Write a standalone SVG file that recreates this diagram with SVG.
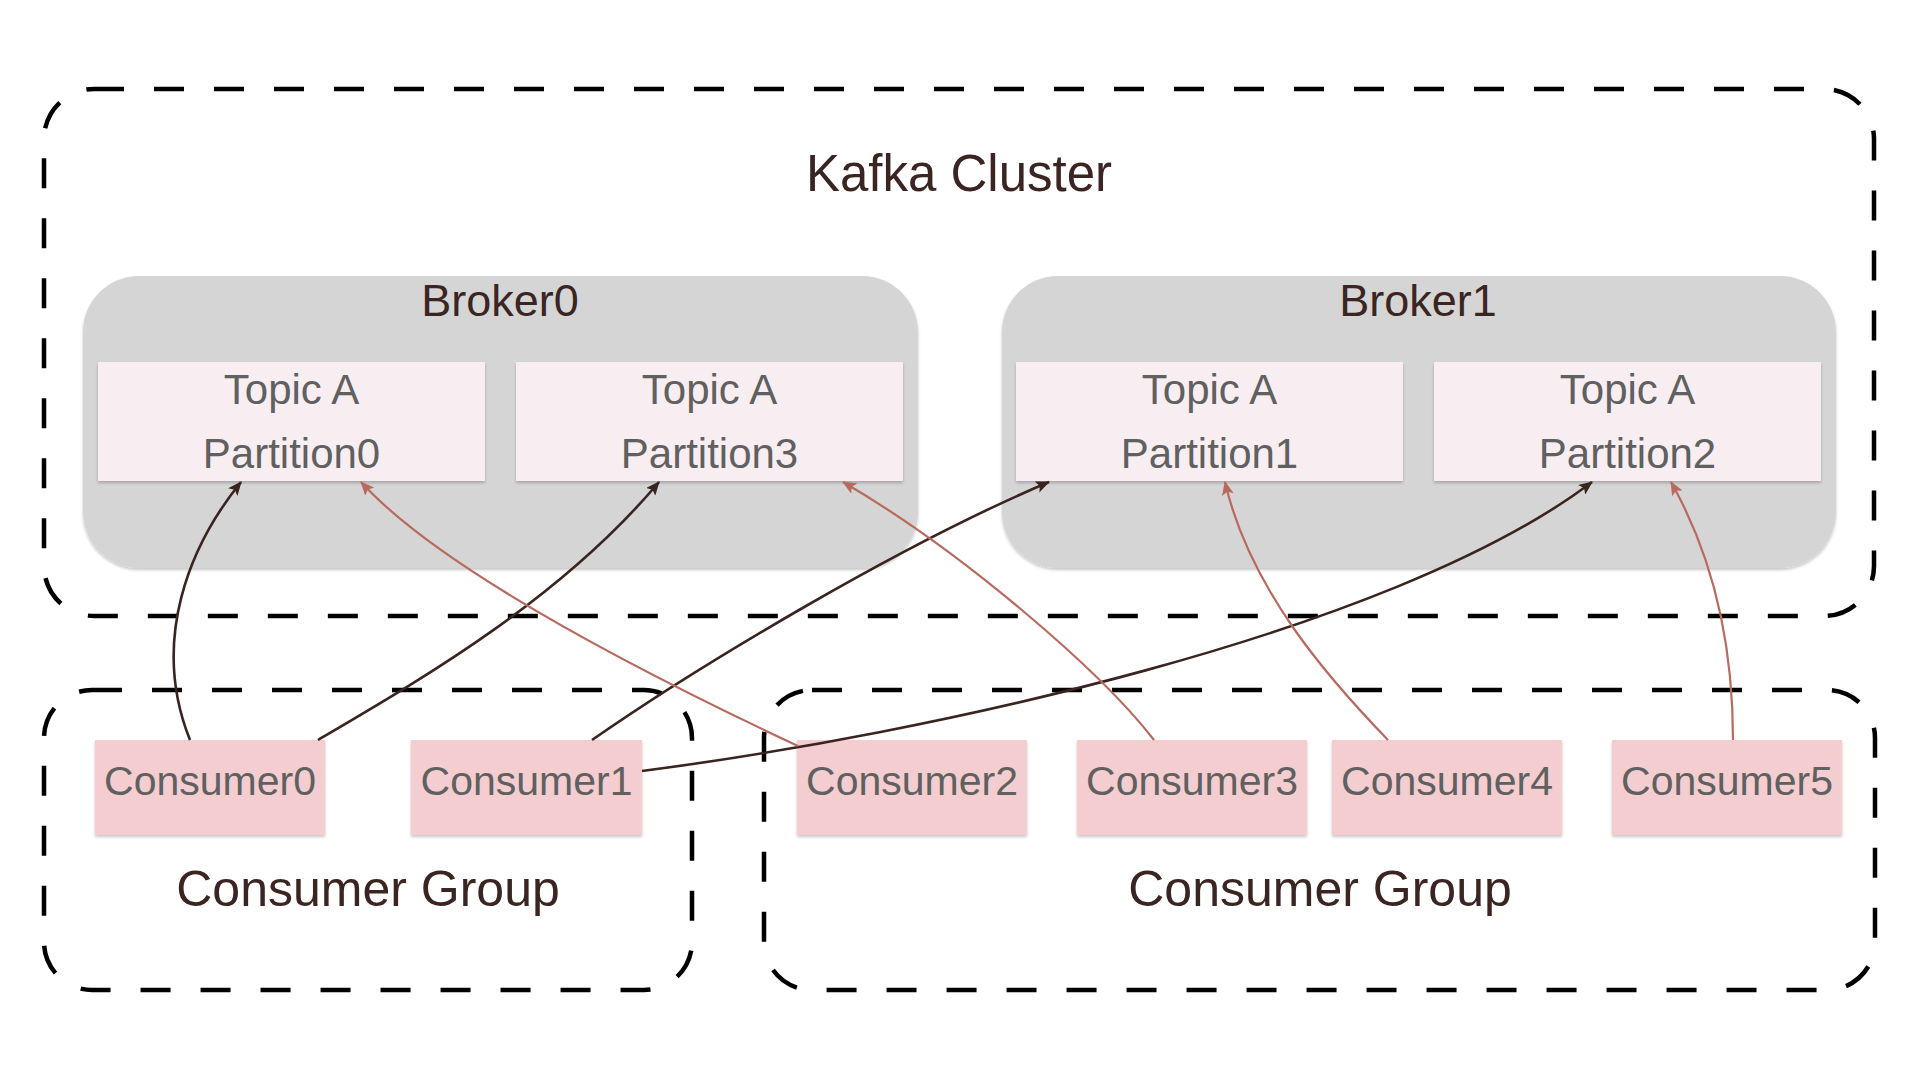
<svg xmlns="http://www.w3.org/2000/svg" width="1920" height="1080" viewBox="0 0 1920 1080">
<defs>
<filter id="sh" x="-10%" y="-10%" width="120%" height="130%">
<feDropShadow dx="0" dy="2" stdDeviation="1.5" flood-color="#000" flood-opacity="0.22"/>
</filter>
<marker id="ad" viewBox="0 0 14 12" refX="13" refY="6" markerWidth="14" markerHeight="12" markerUnits="userSpaceOnUse" orient="auto">
<path d="M0,0 L14,6 L0,12 L3,6 Z" fill="#3a2420"/>
</marker>
<marker id="ar" viewBox="0 0 14 12" refX="13" refY="6" markerWidth="14" markerHeight="12" markerUnits="userSpaceOnUse" orient="auto">
<path d="M0,0 L14,6 L0,12 L3,6 Z" fill="#b96a5f"/>
</marker>
</defs>
<style>
.group{fill:none;stroke:#000;stroke-width:4.5;stroke-dasharray:30 30}
.broker{fill:#d5d5d5;filter:url(#sh)}
.part{fill:#f8eef1;filter:url(#sh)}
.cons{fill:#f3cdcf;filter:url(#sh)}
.t{font-family:"Liberation Sans",Arial,sans-serif;text-anchor:middle}
.title{fill:#3b2522}
.gray{fill:#606060}
.cd{fill:none;stroke:#3a2420;stroke-width:2.6;marker-end:url(#ad)}
.cr{fill:none;stroke:#b96a5f;stroke-width:2.2;marker-end:url(#ar)}
</style>
<rect width="1920" height="1080" fill="#fff"/>

<g id="kafka-cluster">
<rect class="group" x="44" y="89" width="1830" height="527" rx="50"/>
<text class="t title" x="959" y="191" font-size="51">Kafka Cluster</text>
</g>

<g id="broker0">
<rect class="broker" x="83" y="276" width="835" height="292" rx="56"/>
<text class="t title" x="500" y="316" font-size="45">Broker0</text>
</g>
<g id="broker1">
<rect class="broker" x="1002" y="276" width="834" height="292" rx="56"/>
<text class="t title" x="1418" y="316" font-size="45">Broker1</text>
</g>

<g id="partition0">
<rect class="part" x="98" y="362" width="387" height="119"/>
<text class="t gray" x="291.5" y="404" font-size="42">Topic A</text>
<text class="t gray" x="291.5" y="468" font-size="42">Partition0</text>
</g>
<g id="partition3">
<rect class="part" x="516" y="362" width="387" height="119"/>
<text class="t gray" x="709.5" y="404" font-size="42">Topic A</text>
<text class="t gray" x="709.5" y="468" font-size="42">Partition3</text>
</g>
<g id="partition1">
<rect class="part" x="1016" y="362" width="387" height="119"/>
<text class="t gray" x="1209.5" y="404" font-size="42">Topic A</text>
<text class="t gray" x="1209.5" y="468" font-size="42">Partition1</text>
</g>
<g id="partition2">
<rect class="part" x="1434" y="362" width="387" height="119"/>
<text class="t gray" x="1627.5" y="404" font-size="42">Topic A</text>
<text class="t gray" x="1627.5" y="468" font-size="42">Partition2</text>
</g>

<g id="consumer-group-1">
<rect class="group" x="44" y="690" width="648" height="300" rx="48"/>
<text class="t title" x="368" y="906" font-size="50">Consumer Group</text>
</g>
<g id="consumer-group-2">
<rect class="group" x="764" y="690" width="1111" height="300" rx="48"/>
<text class="t title" x="1320" y="906" font-size="50">Consumer Group</text>
</g>

<g id="consumer0">
<rect class="cons" x="95" y="740" width="230" height="95"/>
<text class="t gray" x="210" y="795" font-size="41">Consumer0</text>
</g>
<g id="consumer1">
<rect class="cons" x="411" y="740" width="231" height="95"/>
<text class="t gray" x="526.5" y="795" font-size="41">Consumer1</text>
</g>
<g id="consumer2">
<rect class="cons" x="797" y="740" width="230" height="95"/>
<text class="t gray" x="912" y="795" font-size="41">Consumer2</text>
</g>
<g id="consumer3">
<rect class="cons" x="1077" y="740" width="230" height="95"/>
<text class="t gray" x="1192" y="795" font-size="41">Consumer3</text>
</g>
<g id="consumer4">
<rect class="cons" x="1332" y="740" width="230" height="95"/>
<text class="t gray" x="1447" y="795" font-size="41">Consumer4</text>
</g>
<g id="consumer5">
<rect class="cons" x="1612" y="740" width="230" height="95"/>
<text class="t gray" x="1727" y="795" font-size="41">Consumer5</text>
</g>

<g id="connectors">
<path class="cd" d="M190,740 C150,640 190,545 241,482"/>
<path class="cd" d="M318,740 C420,680 560,600 659,482"/>
<path class="cd" d="M592,740 C700,665 900,545 1049,482"/>
<path class="cd" d="M642,771 C920,735 1390,635 1592,482"/>
<path class="cr" d="M798,746 C700,700 450,580 361,482"/>
<path class="cr" d="M1154,740 C1100,670 960,550 843,482"/>
<path class="cr" d="M1388,740 C1330,680 1250,590 1225,482"/>
<path class="cr" d="M1733,740 C1733,650 1715,560 1671,482"/>
</g>
</svg>
